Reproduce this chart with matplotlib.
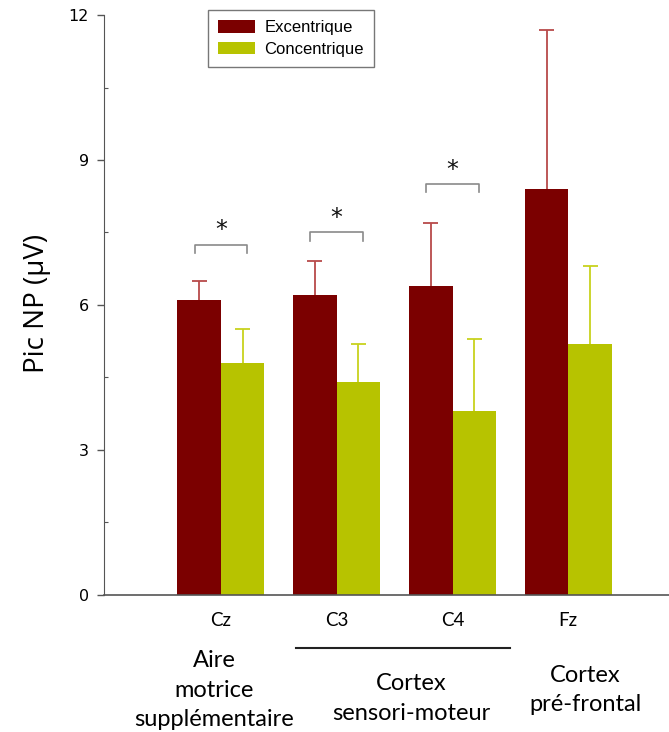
import matplotlib.pyplot as plt
import numpy as np

electrodes = ["Cz", "C3", "C4", "Fz"]
excentrique = [6.1, 6.2, 6.4, 8.4]
excentrique_err = [0.4, 0.7, 1.3, 3.3]
concentrique = [4.8, 4.4, 3.8, 5.2]
concentrique_err = [0.7, 0.8, 1.5, 1.6]
signif_groups = [0, 1, 2]
signif_heights = [7.25, 7.5, 8.5]
regions = ["Aire\nmotrice\nsupplémentaire", "Cortex\nsensori-moteur", "Cortex\npré-frontal"]

exc_color = "#7b0000"
con_color = "#b7c300"

fig = plt.figure(figsize=(6.69, 7.32), dpi=100)
ax = fig.add_axes([0.1555, 0.1872, 0.8445, 0.7923])

x = np.arange(len(electrodes))
w = 0.376
cap = 0.065


def upper_err(xs, vals, errs, color):
    # one-sided (upper) error bars
    tops = np.array(vals) + np.array(errs)
    ax.vlines(xs, vals, tops, color=color, lw=1.3, zorder=1)
    ax.hlines(tops, xs - cap, xs + cap, color=color, lw=1.3, zorder=1)


upper_err(x - w / 2, excentrique, excentrique_err, "#b84a4a")
upper_err(x + w / 2, concentrique, concentrique_err, "#c8d21e")
ax.bar(x - w / 2, excentrique, w, color=exc_color, label="Excentrique", zorder=2)
ax.bar(x + w / 2, concentrique, w, color=con_color, label="Concentrique", zorder=2)

# significance brackets
for g, h in zip(signif_groups, signif_heights):
    x0, x1 = g - w / 2 - 0.04, g + w / 2 + 0.04
    ax.plot([x0, x0, x1, x1], [h - 0.17, h, h, h - 0.17], color="#8a8a8a", lw=1.2)
    ax.text(g, h + 0.3, "*", ha="center", va="center", fontsize=17, color="#111111")

ax.set_xlim(-1.01, 3.87)
ax.set_ylim(0, 12)
ax.set_yticks([0, 3, 6, 9, 12])
ax.set_yticks([1.5, 4.5, 7.5, 10.5], minor=True)
ax.tick_params(axis="y", which="major", length=5, width=1, color="#555555",
               labelsize=11.5, pad=6)
ax.tick_params(axis="y", which="minor", length=3, width=0.8, color="#555555", direction="in")
ax.set_xticks(x)
ax.set_xticklabels(electrodes, fontsize=13.5, fontfamily="Lato")
ax.tick_params(axis="x", length=0, pad=12)
for s in ["top", "right"]:
    ax.spines[s].set_visible(False)
ax.spines["left"].set_color("#555555")
ax.spines["bottom"].set_color("#555555")
ax.spines["bottom"].set_linewidth(1.2)

ax.set_ylabel("Pic NP (µV)", fontsize=20, fontfamily="Open Sans")
ax.yaxis.set_label_coords(-0.093, 0.503)

leg = ax.legend(loc="upper left", bbox_to_anchor=(0.184, 1.0086), borderaxespad=0,
                prop={"family": "Liberation Sans", "size": 12},
                frameon=True, fancybox=False, edgecolor="#555555",
                handlelength=2.2, handleheight=0.75, handletextpad=0.55,
                borderpad=0.62, labelspacing=0.38)
leg.get_frame().set_linewidth(1.0)

# region labels under the axis
trans = ax.get_xaxis_transform()
kw = dict(transform=trans, ha="center", va="top", fontsize=17,
          fontfamily="Lato", linespacing=1.5)
ax.text(-0.06, -0.095, regions[0], **kw)
ax.text(1.64, -0.135, regions[1], **kw)
ax.text(3.15, -0.12, regions[2], **kw)
ax.plot([0.65, 2.5], [-0.092, -0.092], transform=trans, color="#222222",
        lw=1.5, clip_on=False)

fig.savefig("out.png", dpi=100)
